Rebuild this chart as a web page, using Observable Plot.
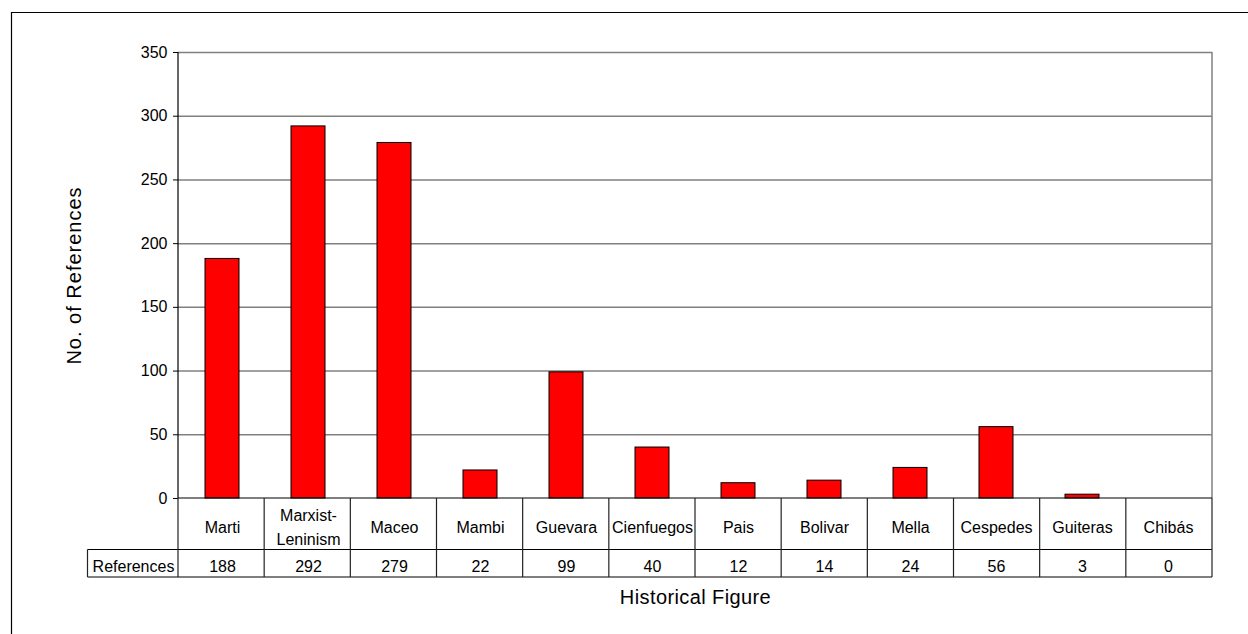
<!DOCTYPE html>
<html>
<head>
<meta charset="utf-8">
<script src="https://cdn.jsdelivr.net/npm/d3@7"></script>
<script src="https://cdn.jsdelivr.net/npm/@observablehq/plot@0.6"></script>
<style>
  html, body { margin: 0; padding: 0; background: #fff; }
  #chart svg { display: block; }
</style>
</head>
<body>
<div id="chart"></div>
<script>
// Historical figures referenced, and how often each appears
const figures = ["Marti", "Marxist-\nLeninism", "Maceo", "Mambi", "Guevara", "Cienfuegos",
                 "Pais", "Bolivar", "Mella", "Cespedes", "Guiteras", "Chibás"];
const references = [188, 292, 279, 22, 99, 40, 12, 14, 24, 56, 3, 0];
const yTicks = [0, 50, 100, 150, 200, 250, 300, 350];
const seriesName = "References";
const xTitle = "Historical Figure";
const yTitle = "No. of References";

const data = figures.map((figure, i) => ({figure, value: references[i]}));

const font = "'Liberation Sans', Arial, sans-serif";

const chart = Plot.plot({
  width: 1248,
  height: 634,
  marginLeft: 178,
  marginRight: 36,
  marginTop: 52,
  marginBottom: 136,
  style: {fontFamily: font, fontSize: "16px", color: "#000", background: "#fff", overflow: "visible"},
  x: {domain: figures, paddingInner: 0.6, paddingOuter: 0.3, axis: null},
  y: {domain: [0, 350], axis: null},
  marks: [
    // horizontal gridlines
    Plot.ruleY(yTicks.filter(t => t > 0), {stroke: "#808080", strokeWidth: 1.5}),
    // bars
    Plot.barY(data, {x: "figure", y: "value", fill: "#ff0000", stroke: "#000", strokeWidth: 1}),
    // y axis ticks and labels
    Plot.axisY({ticks: yTicks, tickSize: 5, tickPadding: 6, label: null, fontSize: 16, stroke: "#000"}),
    // data table: category names
    Plot.text(data, {x: "figure", y: () => 0, text: "figure", dy: 27, lineHeight: 1.5, fontSize: 16, fill: "#000"}),
    // data table: values
    Plot.text(data, {x: "figure", y: () => 0, text: d => String(d.value), dy: 68, fontSize: 16, fill: "#000"}),
    // data table: series label
    Plot.text([seriesName], {frameAnchor: "bottom-left", dx: -45, dy: 68, textAnchor: "middle", lineAnchor: "middle", fontSize: 16, fill: "#000"}),
    // axis titles
    Plot.text([xTitle], {frameAnchor: "bottom", dy: 99, textAnchor: "middle", lineAnchor: "middle", fontSize: 20, fill: "#000"}),
    Plot.text([yTitle], {frameAnchor: "left", dx: -104, rotate: -90, textAnchor: "middle", lineAnchor: "middle", fontSize: 20, fill: "#000"})
  ]
});

document.getElementById("chart").appendChild(chart);

// Axis line, plot border and data-table grid, positioned from the chart's scales
const sx = chart.scale("x");
const sy = chart.scale("y");
const plotLeft = sx.range[0], plotRight = sx.range[1];
const step = (plotRight - plotLeft) / figures.length;
const plotTop = sy.apply(350), base = sy.apply(0);
const rowBottom = base + 51.5, tableBottom = base + 79;
const labelLeft = plotLeft - 90.5;

const svg = d3.select(chart);
svg.selectAll("text").filter(function() { return this.textContent === xTitle; })
  .style("letter-spacing", "0.4px");
svg.selectAll("text").filter(function() { return this.textContent === yTitle; })
  .style("letter-spacing", "1px");

const g = svg.append("g").attr("fill", "none");
// outer chart frame (runs off the right and bottom edges)
g.append("path").attr("d", `M11.5,634V12.5H1248`).attr("stroke", "#000").attr("stroke-width", 1.2);
// plot-area right border
g.append("line").attr("x1", plotRight).attr("x2", plotRight).attr("y1", plotTop).attr("y2", base)
  .attr("stroke", "#808080").attr("stroke-width", 1.5);
// y axis line
g.append("line").attr("x1", plotLeft).attr("x2", plotLeft).attr("y1", plotTop).attr("y2", base)
  .attr("stroke", "#000").attr("stroke-width", 1.2);
// table horizontal lines
g.append("line").attr("x1", plotLeft).attr("x2", plotRight).attr("y1", base).attr("y2", base)
  .attr("stroke", "#000").attr("stroke-width", 1.2);
g.append("line").attr("x1", labelLeft).attr("x2", plotRight).attr("y1", rowBottom).attr("y2", rowBottom)
  .attr("stroke", "#000").attr("stroke-width", 1.2);
g.append("line").attr("x1", labelLeft).attr("x2", plotRight).attr("y1", tableBottom).attr("y2", tableBottom)
  .attr("stroke", "#555").attr("stroke-width", 1.5);
// table vertical lines
for (let i = 0; i <= figures.length; i++) {
  const x = plotLeft + i * step;
  g.append("line").attr("x1", x).attr("x2", x).attr("y1", base).attr("y2", tableBottom)
    .attr("stroke", "#222").attr("stroke-width", 1.2);
}
g.append("line").attr("x1", labelLeft).attr("x2", labelLeft).attr("y1", rowBottom).attr("y2", tableBottom)
  .attr("stroke", "#222").attr("stroke-width", 1.2);
</script>
</body>
</html>
